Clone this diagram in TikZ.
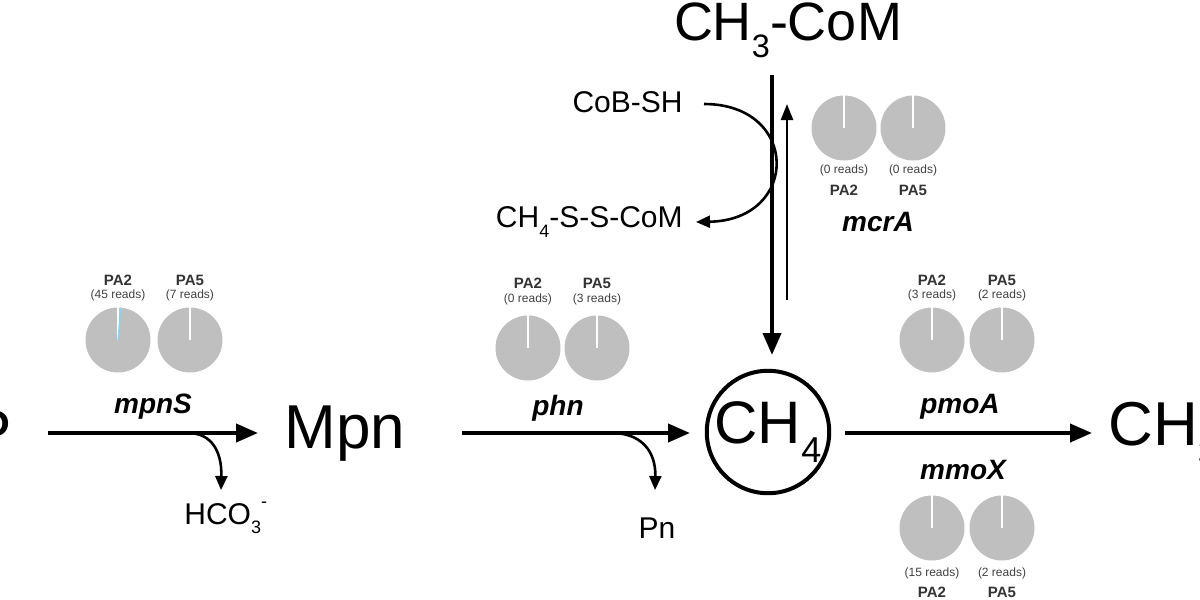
\documentclass[tikz,border=0pt]{standalone}
\usepackage{fontspec}
\setmainfont{Liberation Sans}
\usetikzlibrary{arrows.meta}
\newcommand{\lowsub}[1]{\raisebox{-0.32em}{\fontsize{0.6em}{0.6em}\selectfont #1}}
\newcommand{\highsup}[1]{\raisebox{0.55em}{\fontsize{0.6em}{0.6em}\selectfont #1}}
\tikzset{
 big/.style={font=\fontsize{31}{31}\selectfont,inner sep=0pt},
 mid/.style={font=\fontsize{15}{15}\selectfont,inner sep=0pt},
 gene/.style={font=\fontsize{14}{14}\selectfont\bfseries\itshape,inner sep=0pt},
 samp/.style={font=\fontsize{7.5}{7.5}\selectfont\bfseries,inner sep=0pt,text=black!80},
 reads/.style={font=\fontsize{6}{6}\selectfont,inner sep=0pt,text=black!75},
 main/.style={line width=2pt,-{Triangle[length=11pt,width=9pt]}},
 side/.style={line width=1.3pt,-{Triangle[length=7pt,width=6pt]}},
 pie/.style={circle,fill=black!25,minimum size=32.5pt,inner sep=0pt},
}
\newcommand{\pieat}[2]{\node[pie] (#1) at #2 {};\draw[white,line width=0.9pt] (#1.center)--(#1.north);}
\begin{document}
\begin{tikzpicture}[x=0.5pt,y=-0.5pt]
\useasboundingbox (0,0) rectangle (1200,600);
\clip (0,0) rectangle (1200,600);
% left
\node[big,anchor=east] (P) at (12,432) {P};
\node[big] (Mpn) at (345,434) {Mpn};
\draw[main] (48,433) -- (258,433);
\node[gene] (mpnS) at (153,407) {mpnS};
\node[mid,anchor=west] (hco) at (184,518) {HCO\lowsub{3}\highsup{-}};
\draw[side] (188,433) .. controls (212,433) and (222,452) .. (221,490);
\pieat{p1}{(118,340)}
\draw[cyan!50,line width=0.7pt] (p1.center)--++(3,-32);
\pieat{p2}{(190,340)}
\node[samp] (l1) at (118,280) {PA2};
\node[reads] (r1) at (118,295) {(45 reads)};
\node[samp] (l2) at (190,280) {PA5};
\node[reads] (r2) at (190,295) {(7 reads)};
% phn
\draw[main] (462,433) -- (690,433);
\node[gene] (phn) at (558,408) {phn};
\node[mid] (Pn) at (657,528) {Pn};
\draw[side] (612,433) .. controls (640,433) and (656,450) .. (655,490);
\pieat{p3}{(528,348)}
\pieat{p4}{(597,348)}
\node[samp] (l3) at (528,283) {PA2};
\node[reads] (r3) at (528,299) {(0 reads)};
\node[samp] (l4) at (597,283) {PA5};
\node[reads] (r4) at (597,299) {(3 reads)};
% CH4
\node[circle,draw,line width=2pt,minimum size=58pt,inner sep=0pt,font=\fontsize{30}{30}\selectfont] (ch4) at (768,432) {CH\lowsub{4}};
\draw[main] (845,433) -- (1092,433);
\node[big,anchor=west] (ch3) at (1108,434) {CH\lowsub{3}};
\node[gene] (pmoA) at (960,407) {pmoA};
\node[gene] (mmoX) at (963,470) {mmoX};
\pieat{p5}{(932,340)}
\pieat{p6}{(1002,340)}
\node[samp] (l5) at (932,280) {PA2};
\node[reads] (r5) at (932,295) {(3 reads)};
\node[samp] (l6) at (1002,280) {PA5};
\node[reads] (r6) at (1002,295) {(2 reads)};
\pieat{p7}{(932,528)}
\pieat{p8}{(1002,528)}
\node[reads] (r7) at (932,573) {(15 reads)};
\node[samp] (l7) at (932,592) {PA2};
\node[reads] (r8) at (1002,573) {(2 reads)};
\node[samp] (l8) at (1002,592) {PA5};
% top
\node[font=\fontsize{27}{27}\selectfont,inner sep=0pt,anchor=base] (com) at (788,40) {CH\lowsub{3}-CoM};
\draw[main] (772,75) -- (772,355);
\draw[line width=1.2pt,-{Triangle[length=8pt,width=6pt]}] (787,300) -- (787,104);
\node[mid,anchor=east] (cob) at (683,102) {CoB-SH};
\node[mid,anchor=east] (sscom) at (683,222) {CH\lowsub{4}-S-S-CoM};
\draw[side] (704,104) .. controls (800,104) and (800,220) .. (696,222);
\pieat{p9}{(844,128)}
\pieat{p10}{(913,128)}
\node[reads] (r9) at (844,170) {(0 reads)};
\node[samp] (l9) at (844,190) {PA2};
\node[reads] (r10) at (913,170) {(0 reads)};
\node[samp] (l10) at (913,190) {PA5};
\node[gene] (mcrA) at (878,222) {mcrA};
\end{tikzpicture}
\end{document}
